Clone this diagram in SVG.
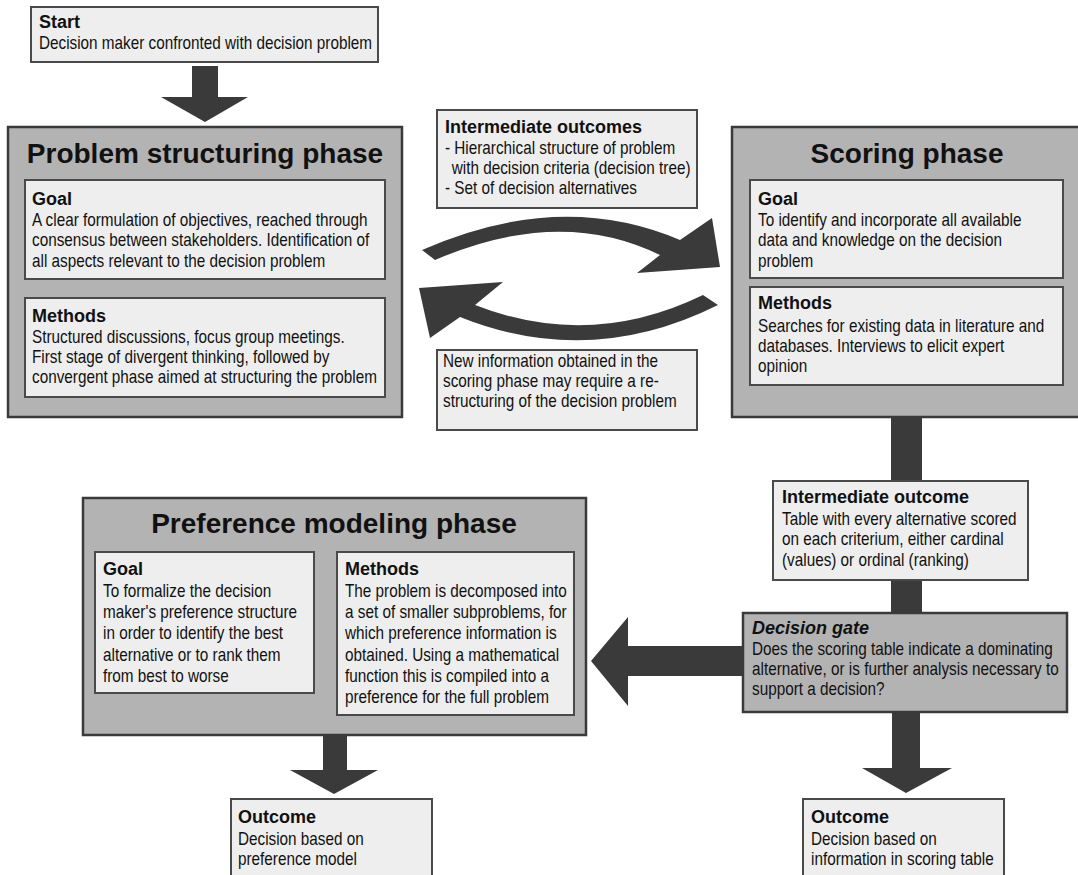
<svg xmlns="http://www.w3.org/2000/svg" width="1078" height="875" viewBox="0 0 1078 875">
<style>
.phase{fill:#b3b3b3;stroke:#3a3a3a;stroke-width:2.5}
.inner{fill:#eeeeee;stroke:#4a4a4a;stroke-width:2}
.arrow{fill:#3a3a3a;stroke:none}
.t{font-family:"Liberation Sans",Arial,sans-serif;font-weight:bold;font-size:28px;fill:#111;text-anchor:middle}
.h{font-family:"Liberation Sans",Arial,sans-serif;font-weight:bold;font-size:18px;fill:#111}
.hi{font-family:"Liberation Sans",Arial,sans-serif;font-weight:bold;font-style:italic;font-size:18px;fill:#111}
.b{font-family:"Liberation Sans",Arial,sans-serif;font-size:18px;fill:#111}
</style>
<rect width="1078" height="875" fill="#ffffff"/>

<g id="connectors">
  <polygon class="arrow" points="192,66 218,66 218,97 248,97 205,122 161,97 192,97"/>
  <path class="arrow" d="M422,250 Q560,189 680,240 L712,218 L720,267 L637,273 L660,255 Q560,206 435,260 Z"/>
  <path class="arrow" d="M703,295 Q590,350 475,305 L503,282 L419,288 L430,338 L460,317 Q590,369 718,305 Z"/>
  <rect class="arrow" x="891" y="416" width="31" height="198"/>
  <polygon class="arrow" points="745,646 628,646 628,617 591,661 628,706 628,676 745,676"/>
  <polygon class="arrow" points="323,734 347,734 347,770 378,770 334,794 290,770 323,770"/>
  <polygon class="arrow" points="892,712 920,712 920,768 952,768 906,793 862,768 892,768"/>
</g>

<g id="start">
  <rect class="inner" x="31" y="7" width="347" height="55"/>
  <text class="h" x="39" y="28">Start</text>
  <text class="b" transform="translate(39,49) scale(0.85,1)">Decision maker confronted with decision problem</text>
</g>

<g id="problem-structuring">
  <rect class="phase" x="8" y="127" width="394" height="290"/>
  <text class="t" x="205" y="163">Problem structuring phase</text>
  <rect class="inner" x="25" y="180" width="360" height="99"/>
  <text class="h" x="32" y="205">Goal</text>
  <text class="b" transform="translate(32,226) scale(0.85,1)"><tspan x="0" y="0">A clear formulation of objectives, reached through</tspan><tspan x="0" y="20.5">consensus between stakeholders. Identification of</tspan><tspan x="0" y="41">all aspects relevant to the decision problem</tspan></text>
  <rect class="inner" x="25" y="298" width="360" height="99"/>
  <text class="h" x="32" y="322">Methods</text>
  <text class="b" transform="translate(32,343) scale(0.85,1)"><tspan x="0" y="0">Structured discussions, focus group meetings.</tspan><tspan x="0" y="20">First stage of divergent thinking, followed by</tspan><tspan x="0" y="40">convergent phase aimed at structuring the problem</tspan></text>
</g>

<g id="intermediate-outcomes">
  <rect class="inner" x="437" y="110" width="260" height="98"/>
  <text class="h" x="445" y="133">Intermediate outcomes</text>
  <text class="b" transform="translate(445,154) scale(0.85,1)"><tspan x="0" y="0">- Hierarchical structure of problem</tspan><tspan x="8" y="20">with decision criteria (decision tree)</tspan><tspan x="0" y="40">- Set of decision alternatives</tspan></text>
</g>

<g id="new-information">
  <rect class="inner" x="437" y="350" width="260" height="80"/>
  <text class="b" transform="translate(443,367) scale(0.85,1)"><tspan x="0" y="0">New information obtained in the</tspan><tspan x="0" y="20">scoring phase may require a re-</tspan><tspan x="0" y="40">structuring of the decision problem</tspan></text>
</g>

<g id="scoring">
  <rect class="phase" x="732" y="127" width="360" height="290"/>
  <text class="t" x="907" y="163">Scoring phase</text>
  <rect class="inner" x="750" y="180" width="313" height="98"/>
  <text class="h" x="758" y="205">Goal</text>
  <text class="b" transform="translate(758,226) scale(0.85,1)"><tspan x="0" y="0">To identify and incorporate all available</tspan><tspan x="0" y="20.5">data and knowledge on the decision</tspan><tspan x="0" y="41">problem</tspan></text>
  <rect class="inner" x="750" y="287" width="313" height="98"/>
  <text class="h" x="758" y="309">Methods</text>
  <text class="b" transform="translate(758,332) scale(0.85,1)"><tspan x="0" y="0">Searches for existing data in literature and</tspan><tspan x="0" y="20">databases. Interviews to elicit expert</tspan><tspan x="0" y="40">opinion</tspan></text>
</g>

<g id="intermediate-outcome">
  <rect class="inner" x="773" y="481" width="255" height="99"/>
  <text class="h" x="782" y="503">Intermediate outcome</text>
  <text class="b" transform="translate(782,525) scale(0.85,1)"><tspan x="0" y="0">Table with every alternative scored</tspan><tspan x="0" y="20.5">on each criterium, either cardinal</tspan><tspan x="0" y="41">(values) or ordinal (ranking)</tspan></text>
</g>

<g id="decision-gate">
  <rect class="phase" x="743" y="613" width="324" height="99"/>
  <text class="hi" x="752" y="634">Decision gate</text>
  <text class="b" transform="translate(752,655) scale(0.85,1)"><tspan x="0" y="0">Does the scoring table indicate a dominating</tspan><tspan x="0" y="20">alternative, or is further analysis necessary to</tspan><tspan x="0" y="40">support a decision?</tspan></text>
</g>

<g id="preference-modeling">
  <rect class="phase" x="83" y="498" width="503" height="237"/>
  <text class="t" x="334" y="533">Preference modeling phase</text>
  <rect class="inner" x="95" y="552" width="219" height="141"/>
  <text class="h" x="103" y="575">Goal</text>
  <text class="b" transform="translate(103,597) scale(0.85,1)"><tspan x="0" y="0">To formalize the decision</tspan><tspan x="0" y="21.2">maker's preference structure</tspan><tspan x="0" y="42.4">in order to identify the best</tspan><tspan x="0" y="63.6">alternative or to rank them</tspan><tspan x="0" y="84.8">from best to worse</tspan></text>
  <rect class="inner" x="337" y="552" width="237" height="163"/>
  <text class="h" x="345" y="575">Methods</text>
  <text class="b" transform="translate(345,597) scale(0.85,1)"><tspan x="0" y="0">The problem is decomposed into</tspan><tspan x="0" y="21.2">a set of smaller subproblems, for</tspan><tspan x="0" y="42.4">which preference information is</tspan><tspan x="0" y="63.6">obtained. Using a mathematical</tspan><tspan x="0" y="84.8">function this is compiled into a</tspan><tspan x="0" y="106">preference for the full problem</tspan></text>
</g>

<g id="outcome-preference">
  <rect class="inner" x="231" y="799" width="201" height="90"/>
  <text class="h" x="238" y="823">Outcome</text>
  <text class="b" transform="translate(238,845) scale(0.85,1)"><tspan x="0" y="0">Decision based on</tspan><tspan x="0" y="20">preference model</tspan></text>
</g>

<g id="outcome-scoring">
  <rect class="inner" x="803" y="799" width="201" height="90"/>
  <text class="h" x="811" y="823">Outcome</text>
  <text class="b" transform="translate(811,845) scale(0.85,1)"><tspan x="0" y="0">Decision based on</tspan><tspan x="0" y="20">information in scoring table</tspan></text>
</g>
</svg>
